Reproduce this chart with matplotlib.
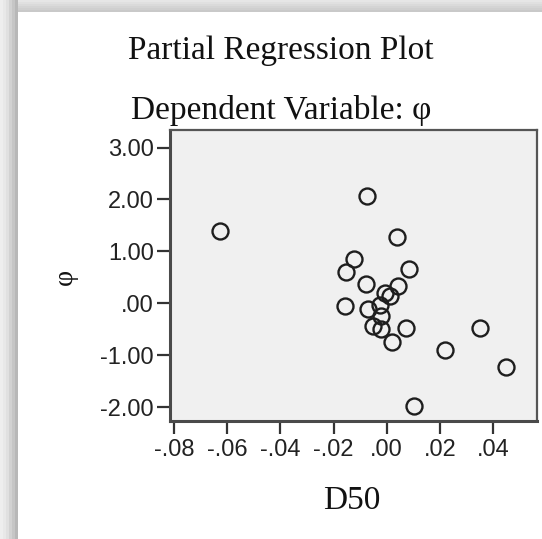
import matplotlib
matplotlib.use("Agg")
import matplotlib.pyplot as plt
from matplotlib.patches import Rectangle

# ---- data ----
d50 = [-0.0626, -0.0073, 0.0037, -0.0125, -0.0155, 0.0083, -0.0077, 0.0043,
       -0.0008, 0.0011, -0.0158, -0.0026, -0.0071, -0.0020, -0.0052, -0.0020,
       0.0074, 0.0020, 0.0219, 0.0351, 0.0449, 0.0102]
phi = [1.40, 2.06, 1.27, 0.85, 0.61, 0.66, 0.37, 0.33,
       0.20, 0.14, -0.05, -0.03, -0.11, -0.24, -0.44, -0.50,
       -0.47, -0.74, -0.90, -0.48, -1.22, -1.98]

xticks = [-0.08, -0.06, -0.04, -0.02, 0.00, 0.02, 0.04]
xticklabels = ["-.08", "-.06", "-.04", "-.02", ".00", ".02", ".04"]
yticks = [3, 2, 1, 0, -1, -2]
yticklabels = ["3.00", "2.00", "1.00", ".00", "-1.00", "-2.00"]

title1 = "Partial Regression Plot"
title2 = "Dependent Variable: \u03c6"
xlabel = "D50"
ylabel = "\u03c6"

W, H = 542, 539
fig = plt.figure(figsize=(W / 100, H / 100), dpi=100)
fig.patch.set_facecolor("white")

# shadow bands (top and left)
def band(x0, y0, w, h, c):
    fig.add_artist(Rectangle((x0 / W, 1 - (y0 + h) / H), w / W, h / H,
                             transform=fig.transFigure, facecolor=c,
                             edgecolor="none", zorder=0))

top_cols = ["#e6e6e6", "#e0e0e0", "#dadada", "#d4d4d4", "#cfcfcf", "#c9c9c9"]
for i, c in enumerate(top_cols):
    band(0, i * 2, W, 2, c)
left_cols = ["#eeeeee", "#e8e8e8", "#e0e0e0", "#d2d2d2", "#c6c6c6", "#b8b8b8"]
for i, c in enumerate(left_cols):
    band(i * 3, 0, 3, H, c)

ax = fig.add_axes([170 / W, 1 - 420.5 / H, 367 / W, 290.5 / H])
ax.set_facecolor("#f0f0f0")
ax.plot(d50, phi, linestyle="none", marker="o", markersize=11.5,
        markerfacecolor="none", markeredgecolor="#1e1e1e", markeredgewidth=1.7)

ax.set_xlim(-0.0815, 0.0565)
ax.set_ylim(-2.254, 3.337)
ax.set_xticks(xticks)
ax.set_xticklabels(xticklabels)
ax.set_yticks(yticks)
ax.set_yticklabels(yticklabels)

for lab in ax.get_xticklabels() + ax.get_yticklabels():
    lab.set_fontfamily("Liberation Sans")
    lab.set_fontsize(17)
    lab.set_color("#222222")
ax.tick_params(axis="both", direction="out", length=9.5, width=1.6,
               color="#333333")
ax.tick_params(axis="x", pad=4)
ax.tick_params(axis="y", pad=2)

for side in ["left", "bottom"]:
    ax.spines[side].set_linewidth(2.2)
    ax.spines[side].set_color("#4a4a4a")
for side in ["top", "right"]:
    ax.spines[side].set_linewidth(1.6)
    ax.spines[side].set_color("#555555")

serif = ["Liberation Serif", "DejaVu Serif"]
fig.text(281 / W, 1 - 51 / H, title1, ha="center", va="center",
         family=serif, fontsize=24, color="#111111")
fig.text(281 / W, 1 - 110 / H, title2, ha="center", va="center",
         family=serif, fontsize=24, color="#111111")
fig.text(352 / W, 1 - 501 / H, xlabel, ha="center", va="center",
         family=serif, fontsize=24, color="#111111")
fig.text(65 / W, 1 - 277 / H, ylabel, ha="center", va="center",
         rotation=90, family=serif, fontsize=20, color="#111111")

fig.savefig("out.png", dpi=100)
